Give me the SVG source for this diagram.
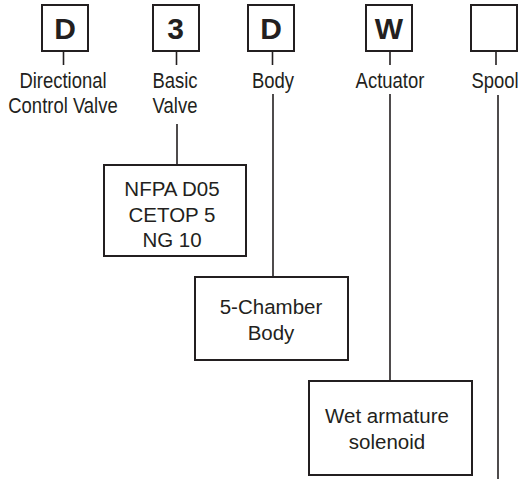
<svg xmlns="http://www.w3.org/2000/svg" width="520" height="479" viewBox="0 0 520 479">
<style>
.code{fill:#fff;stroke:#231f20;stroke-width:2}
.box{fill:#fff;stroke:#231f20;stroke-width:2}
.ln{stroke:#231f20;stroke-width:1.6;fill:none}
.big{font-family:"Liberation Sans",Arial,sans-serif;font-weight:bold;font-size:30px;fill:#231f20;text-anchor:middle}
.lab{font-family:"Liberation Sans",Arial,sans-serif;font-size:22px;fill:#231f20;text-anchor:middle}
.txt{font-family:"Liberation Sans",Arial,sans-serif;font-size:20.5px;fill:#231f20;text-anchor:middle}
</style>
<rect width="520" height="479" fill="#fff"/>
<g id="connectors">
<line class="ln" x1="63.5" y1="52" x2="63.5" y2="65"/>
<line class="ln" x1="176.5" y1="52" x2="176.5" y2="65"/>
<line class="ln" x1="272.5" y1="52" x2="272.5" y2="65"/>
<line class="ln" x1="390" y1="52" x2="390" y2="65"/>
<line class="ln" x1="496" y1="52" x2="496" y2="65"/>
<line class="ln" x1="177" y1="124" x2="177" y2="164"/>
<line class="ln" x1="273" y1="94" x2="273" y2="276"/>
<line class="ln" x1="390" y1="94" x2="390" y2="380"/>
<line class="ln" x1="498" y1="95" x2="498" y2="479"/>
</g>
<g id="node-d1">
<rect class="code" x="42" y="5" width="46" height="46"/>
<text class="big" x="65" y="39">D</text>
<text class="lab" transform="translate(63,88) scale(0.84,1)">Directional</text>
<text class="lab" transform="translate(63,113) scale(0.84,1)">Control Valve</text>
</g>
<g id="node-3">
<rect class="code" x="153" y="5" width="46" height="46"/>
<text class="big" x="175.5" y="39">3</text>
<text class="lab" transform="translate(175,88) scale(0.84,1)">Basic</text>
<text class="lab" transform="translate(175,113) scale(0.84,1)">Valve</text>
</g>
<g id="node-d2">
<rect class="code" x="248" y="5" width="46" height="46"/>
<text class="big" x="271" y="39">D</text>
<text class="lab" transform="translate(273,88) scale(0.84,1)">Body</text>
</g>
<g id="node-w">
<rect class="code" x="366" y="5" width="46" height="46"/>
<text class="big" x="389" y="39">W</text>
<text class="lab" transform="translate(390,88) scale(0.84,1)">Actuator</text>
</g>
<g id="node-spool">
<rect class="code" x="471" y="5" width="46" height="46"/>
<text class="lab" transform="translate(495,88) scale(0.84,1)">Spool</text>
</g>
<g id="node-nfpa">
<rect class="box" x="104" y="165" width="142" height="91"/>
<text class="txt" x="172" y="196">NFPA D05</text>
<text class="txt" x="172" y="222">CETOP 5</text>
<text class="txt" x="172" y="247">NG 10</text>
</g>
<g id="node-body">
<rect class="box" x="195" y="277" width="153" height="83"/>
<text class="txt" x="271" y="314">5-Chamber</text>
<text class="txt" x="271" y="340">Body</text>
</g>
<g id="node-actuator">
<rect class="box" x="309" y="381" width="163" height="94"/>
<text class="txt" x="387" y="423">Wet armature</text>
<text class="txt" x="387" y="449">solenoid</text>
</g>
</svg>
